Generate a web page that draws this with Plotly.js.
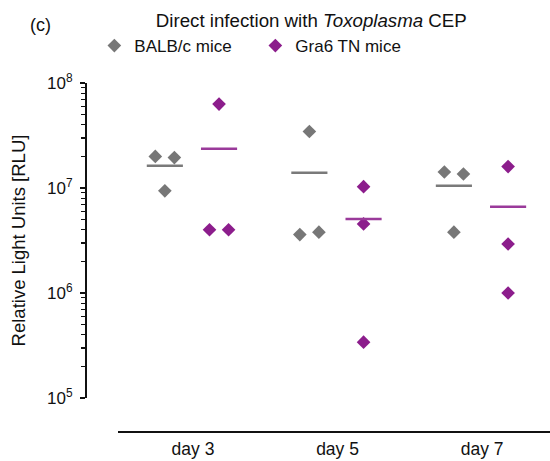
<!DOCTYPE html>
<html>
<head>
<meta charset="utf-8">
<script src="https://cdn.plot.ly/plotly-3.0.1.min.js"></script>
<style>html,body{margin:0;padding:0;background:#fff;}#chart{width:550px;height:461px;}</style>
</head>
<body>
<div id="chart"></div>
<script>
// ---- data ----
const days = ["day 3", "day 5", "day 7"];
const balbValues = [
  [2.0e7, 1.95e7, 9.4e6],
  [3.45e7, 3.6e6, 3.8e6],
  [1.42e7, 1.36e7, 3.8e6]
];
const gra6Values = [
  [6.3e7, 4.0e6, 4.0e6],
  [1.03e7, 4.55e6, 3.4e5],
  [1.6e7, 2.93e6, 1.0e6]
];
const seriesNames = ["BALB/c mice", "Gra6 TN mice"];
const yTickVals = [1e5, 1e6, 1e7, 1e8];
const yTickText = ["10<sup>5</sup>", "10<sup>6</sup>", "10<sup>7</sup>", "10<sup>8</sup>"];

// ---- styling / positioning ----
const colors = ["#777777", "#8c1d8c"];
const meanColors = ["#7a7a7a", "#9a3a9a"];
const groupOffset = [-0.195, 0.18];
const jitterStep = 0.066;
const meanHalfWidth = 0.125;

function jitter(vals) {
  // spread points whose log values nearly coincide
  const logs = vals.map(v => Math.log10(v));
  const off = vals.map(() => 0);
  const used = vals.map(() => false);
  for (let i = 0; i < vals.length; i++) {
    if (used[i]) continue;
    const cluster = [i];
    for (let j = i + 1; j < vals.length; j++) {
      if (!used[j] && Math.abs(logs[j] - logs[i]) < 0.15) cluster.push(j);
    }
    cluster.forEach((idx, k) => {
      used[idx] = true;
      off[idx] = (k - (cluster.length - 1) / 2) * 2 * jitterStep;
    });
  }
  return off;
}

const traces = [];
[balbValues, gra6Values].forEach((series, s) => {
  const xs = [], ys = [];
  series.forEach((vals, d) => {
    const off = jitter(vals);
    vals.forEach((v, i) => { xs.push(d + groupOffset[s] + off[i]); ys.push(v); });
  });
  traces.push({
    type: "scatter", mode: "markers", name: seriesNames[s],
    x: xs, y: ys,
    marker: { symbol: "diamond", size: 10.5, color: colors[s], line: { width: 0 } },
    cliponaxis: false
  });
});
[balbValues, gra6Values].forEach((series, s) => {
  series.forEach((vals, d) => {
    const mean = vals.reduce((a, b) => a + b, 0) / vals.length;
    const c = d + groupOffset[s];
    traces.push({
      type: "scatter", mode: "lines", showlegend: false, hoverinfo: "skip",
      x: [c - meanHalfWidth, c + meanHalfWidth], y: [mean, mean],
      line: { color: meanColors[s], width: 2.5 }
    });
  });
});

const minorVals = [];
for (let e = 5; e < 8; e++) for (let k = 2; k <= 9; k++) minorVals.push(k * Math.pow(10, e));

const font = "Liberation Sans, Arial, Helvetica, sans-serif";
const ink = "#111";
const layout = {
  width: 550, height: 461,
  margin: { l: 86, r: 0, t: 83, b: 29 },
  paper_bgcolor: "#fff", plot_bgcolor: "#fff",
  font: { family: font, size: 16, color: ink },
  title: {
    text: "Direct infection with <i>Toxoplasma</i> CEP",
    font: { family: font, size: 18.7, color: ink },
    xref: "container", x: 0.566, xanchor: "center",
    yref: "container", y: 1 - 20 / 461, yanchor: "middle"
  },
  showlegend: true,
  legend: {
    orientation: "h", x: 0.018, xanchor: "left", y: 1 + (83 - 46) / 349, yanchor: "middle",
    font: { family: font, size: 17, color: ink },
    bgcolor: "rgba(0,0,0,0)", itemwidth: 30, entrywidth: 116
  },
  xaxis: {
    domain: [0.069, 1], range: [-0.519, 2.47],
    tickvals: [0, 1, 2], ticktext: days,
    showline: true, linecolor: ink, linewidth: 2,
    ticks: "", showgrid: false, zeroline: false,
    anchor: "free", position: 0, ticklabelstandoff: 1,
    tickfont: { family: font, size: 17.5, color: ink }
  },
  yaxis: {
    type: "log", range: [5, 8], domain: [0.0974, 1],
    tickvals: yTickVals, ticktext: yTickText,
    showline: true, linecolor: ink, linewidth: 2,
    ticks: "outside", ticklen: 5, tickwidth: 1.5, tickcolor: ink,
    minor: { tickvals: minorVals, ticks: "outside", ticklen: 4, tickwidth: 1.2, tickcolor: ink, showgrid: false },
    showgrid: false, zeroline: false,
    anchor: "free", position: 0, ticklabelstandoff: 4,
    tickfont: { family: font, size: 17, color: ink },
    title: { text: "Relative Light Units [RLU]", font: { family: font, size: 18.5, color: ink }, standoff: 16 }
  },
  annotations: [{
    text: "(c)", xref: "paper", yref: "paper", x: (40 - 86) / 464, y: 1 + (83 - 25) / 349,
    xanchor: "center", yanchor: "middle", showarrow: false,
    font: { family: font, size: 18, color: ink }
  }]
};

Plotly.newPlot("chart", traces, layout, { displayModeBar: false, staticPlot: true });
</script>
</body>
</html>
